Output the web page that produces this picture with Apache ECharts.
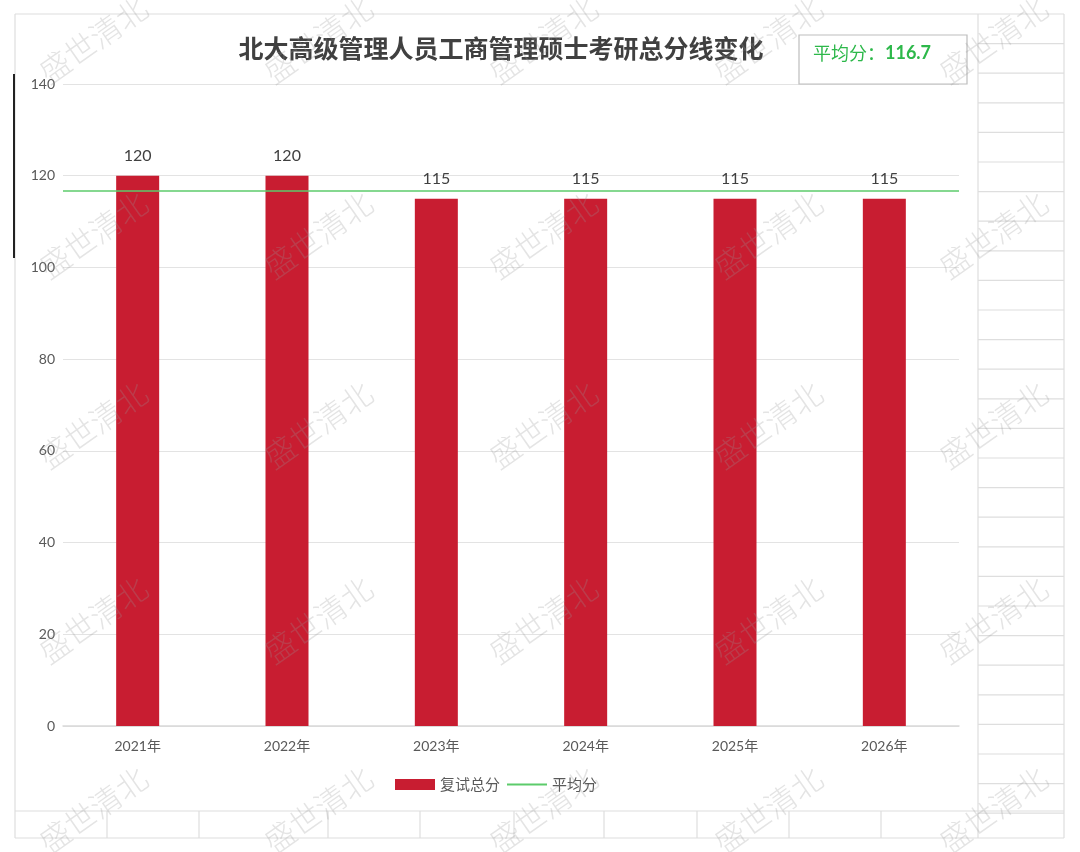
<!DOCTYPE html>
<html>
<head>
<meta charset="utf-8">
<title>北大高级管理人员工商管理硕士考研总分线变化</title>
<script src="https://cdn.jsdelivr.net/npm/echarts@6/dist/echarts.min.js"></script>
<style>
  html, body { margin: 0; padding: 0; background: #fff; }
  #chart { width: 1080px; height: 852px; }
</style>
</head>
<body>
<div id="chart"></div>
<script>
// 数据
const years = ['2021年', '2022年', '2023年', '2024年', '2025年', '2026年'];
const scores = [120, 120, 115, 115, 115, 115];
const yTicks = [0, 20, 40, 60, 80, 100, 120, 140];
const avgScore = 116.7;

const FONT = "Lato, 'Noto Sans CJK SC', sans-serif";
const CJK = "'Noto Sans CJK SC', sans-serif";
const RED = '#c81d31';
const GREEN = '#5ccb6b';

const chart = echarts.init(document.getElementById('chart'), null, { renderer: 'canvas' });

// 背景的表格线
const cellLine = { stroke: '#dedede', lineWidth: 1.2 };
const bg = [];
function addLine(x1, y1, x2, y2, style) {
    bg.push({ type: 'line', z: -10, silent: true, shape: { x1, y1, x2, y2 }, style: style || cellLine });
}
// 图表外框
addLine(15, 14, 1064, 14);
addLine(15, 14, 15, 838);
addLine(978, 14, 978, 838);
addLine(1064, 14, 1064, 838);
addLine(15, 811, 1064, 811);
addLine(15, 838, 1064, 838);
// 右侧单元格
for (let y = 14 + 29.6; y < 838; y += 29.6) addLine(978, y, 1064, y);
// 底部单元格
[107, 199, 328, 420, 514, 604, 697, 789, 881].forEach(x => addLine(x, 811, x, 838));
// 左侧黑线
bg.push({ type: 'line', z: 50, silent: true, shape: { x1: 14, y1: 74, x2: 14, y2: 258 }, style: { stroke: '#222', lineWidth: 2 } });

// 平均分框
bg.push({ type: 'rect', z: 20, shape: { x: 799, y: 35, width: 168, height: 49 }, style: { fill: '#fff', stroke: '#bdbdbd', lineWidth: 1.2 } });
bg.push({
    type: 'text', z: 21, x: 813, y: 53,
    style: {
        text: '{a|平均分：}{b|' + avgScore + '}',
        verticalAlign: 'middle',
        rich: {
            a: { fontSize: 18, fill: '#2db84a', fontFamily: CJK },
            b: { fontSize: 18, fill: '#2db84a', fontWeight: 'bold', fontFamily: FONT }
        }
    }
});

// 水印
const wmX = [93, 318, 543, 768, 993];
const wmY = [40, 235, 425, 620, 810];
wmY.forEach(y => wmX.forEach(x => {
    bg.push({
        type: 'text', z: 200, silent: true, x, y, rotation: Math.PI * 35 / 180,
        style: {
            text: '盛世清北', fontSize: 31, fontWeight: 300, fontFamily: CJK,
            fill: 'rgba(150,150,150,0.26)', align: 'center', verticalAlign: 'middle'
        }
    });
}));

const options = {
    backgroundColor: '#fff',
    animation: false,
    title: {
        text: '北大高级管理人员工商管理硕士考研总分线变化',
        left: 496,
        textAlign: 'center',
        top: 31,
        textStyle: { fontSize: 25, fontWeight: 'bold', color: '#404040', fontFamily: CJK }
    },
    legend: {
        left: 390,
        bottom: 55,
        itemWidth: 40,
        itemHeight: 11,
        itemGap: 6,
        textStyle: { fontSize: 15, color: '#595959', fontFamily: CJK },
        data: [
            { name: '复试总分', icon: 'rect' },
            { name: '平均分', itemStyle: { opacity: 0 } }
        ]
    },
    grid: { left: 63, right: 121, top: 84, bottom: 126, containLabel: false },
    xAxis: {
        type: 'category',
        data: years,
        axisLine: { lineStyle: { color: '#d9d9d9', width: 1.5 } },
        axisTick: { show: false },
        axisLabel: { fontSize: 14, color: '#595959', margin: 13, fontFamily: FONT }
    },
    yAxis: {
        type: 'value',
        min: yTicks[0],
        max: yTicks[yTicks.length - 1],
        interval: yTicks[1] - yTicks[0],
        axisLine: { show: false },
        axisTick: { show: false },
        axisLabel: { fontSize: 14, color: '#595959', margin: 8, fontFamily: FONT },
        splitLine: { lineStyle: { color: '#e3e3e3', width: 1.2 } }
    },
    graphic: bg,
    series: [
        {
            name: '复试总分',
            type: 'bar',
            data: scores,
            barWidth: 43,
            itemStyle: { color: RED },
            label: {
                show: true, position: 'top', distance: 12,
                fontSize: 16, color: '#404040', fontFamily: FONT
            }
        },
        {
            name: '平均分',
            type: 'line',
            data: [],
            symbol: 'none',
            showSymbol: false,
            lineStyle: { color: GREEN, width: 1.5 },
            itemStyle: { color: GREEN },
            markLine: {
                silent: true,
                symbol: 'none',
                label: { show: false },
                lineStyle: { color: GREEN, width: 1.5, type: 'solid' },
                data: [{ yAxis: avgScore }]
            }
        }
    ]
};

chart.setOption(options);
</script>
</body>
</html>
